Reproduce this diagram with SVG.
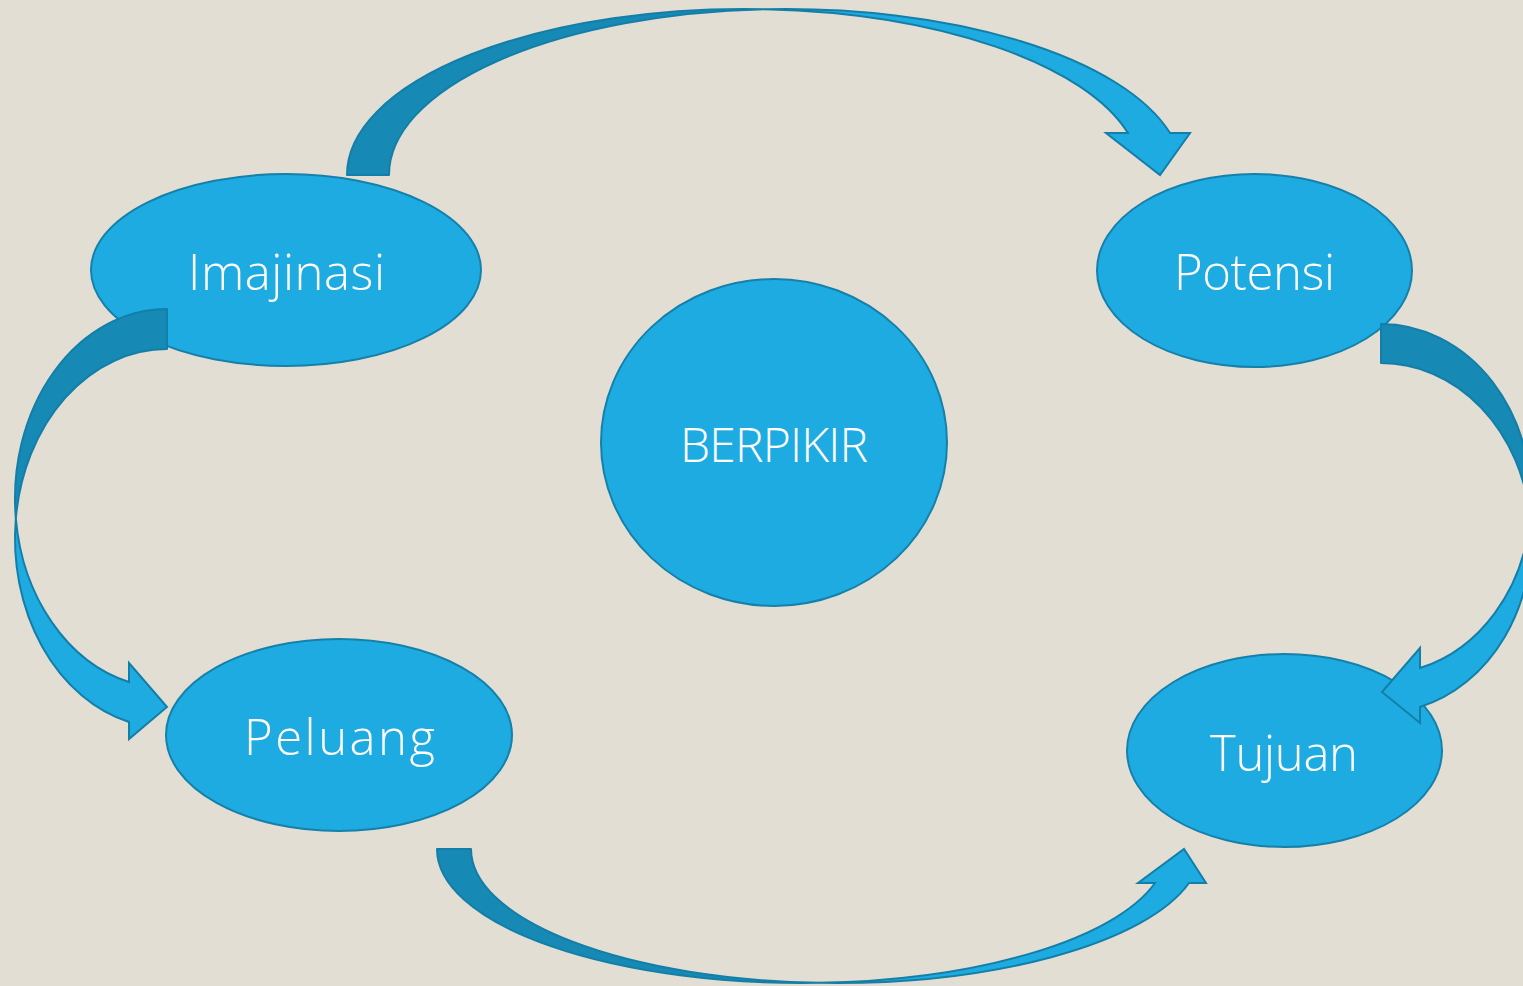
<svg xmlns="http://www.w3.org/2000/svg" width="1523" height="986" viewBox="0 0 1523 986">
<style>
.node{fill:#1eabe2;stroke:#1580aa;stroke-width:2}
.lbl{fill:#ffffff;font-family:"Open Sans","Liberation Sans",sans-serif;font-weight:300;text-anchor:middle}
.back{fill:#1689b5;stroke:#137fa8;stroke-width:2;stroke-linejoin:round}
.front{fill:#1eabe2;stroke:#137fa8;stroke-width:2;stroke-linejoin:miter}
</style>
<rect width="1523" height="986" fill="#e3ded3"/>
<g id="imajinasi"><ellipse class="node" cx="286" cy="270" rx="195" ry="96"/><text class="lbl" x="286.5" y="290" font-size="49" textLength="197">Imajinasi</text></g>
<g id="potensi"><ellipse class="node" cx="1254.5" cy="270.5" rx="157.5" ry="96.5"/><text class="lbl" x="1254.5" y="290" font-size="49" textLength="161">Potensi</text></g>
<g id="berpikir"><ellipse class="node" cx="774" cy="442.5" rx="173" ry="163.5"/><text class="lbl" x="774" y="462" font-size="48" textLength="188">BERPIKIR</text></g>
<g id="peluang"><ellipse class="node" cx="339" cy="735" rx="173" ry="96"/><text class="lbl" x="339.5" y="755" font-size="49" textLength="191">Peluang</text></g>
<g id="tujuan"><ellipse class="node" cx="1284.5" cy="750.5" rx="157.5" ry="96.5"/><text class="lbl" x="1284" y="771" font-size="49" textLength="148">Tujuan</text></g>
<g id="connectors">
<path class="back" d="M347,175 A397,166 0 0 1 765,9.2 A397,166 0 0 0 389,175 Z"/>
<path class="front" d="M765,9.2 A397,166 0 0 1 1170,133 L1190,133 L1160,175 L1106,133 L1128,133 A397,166 0 0 0 765,9.2 Z"/>
<path class="back" d="M167,309 A152,189.5 0 0 0 15.85,518.5 A152,189.5 0 0 1 167,349 Z"/>
<path class="front" d="M15.85,518.5 A152,189.5 0 0 0 129,722 L129,739 L167,707 L129,663 L129,682 A152,189.5 0 0 1 15.85,518.5 Z"/>
<path class="back" d="M1381,324 A150,175 0 0 1 1530.1,518.5 A150,175 0 0 0 1381,363 Z"/>
<path class="front" d="M1530.1,518.5 A150,175 0 0 1 1420,707 L1420,723 L1382,692 L1420,648 L1420,668 A150,175 0 0 0 1530.1,518.5 Z"/>
<path class="back" d="M437,849 A365,134 0 0 0 819,982.85 A365,134 0 0 1 471,849 Z"/>
<path class="front" d="M819,982.85 A365,134 0 0 0 1189,883 L1206,883 L1184,849 L1138,883 L1155,883 A365,134 0 0 1 819,982.85 Z"/>
</g>
</svg>
